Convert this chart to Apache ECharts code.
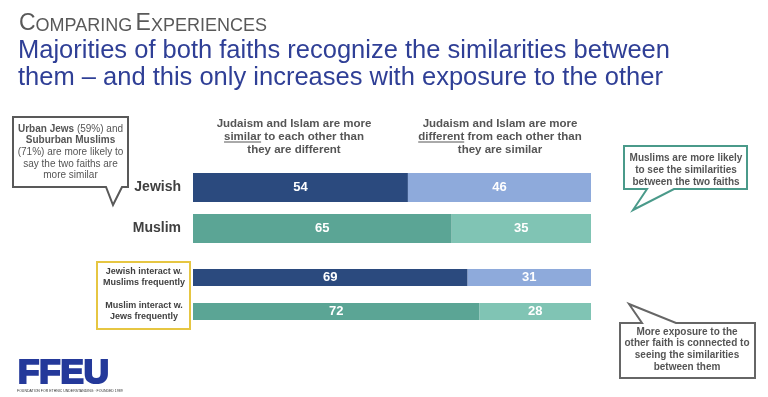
<!DOCTYPE html>
<html>
<head>
<meta charset="utf-8">
<script src="https://cdn.jsdelivr.net/npm/echarts@6/dist/echarts.min.js"></script>
<style>
  html, body { margin: 0; padding: 0; background: #fff; }
  #chart { width: 768px; height: 397px; }
</style>
</head>
<body>
<div id="chart"></div>
<script>
var groupTop = ['Jewish', 'Muslim'];
var groupBottom = ['Jewish interact w.\nMuslims frequently', 'Muslim interact w.\nJews frequently'];
var similarTop = [54, 65];
var differentTop = [46, 35];
var similarBottom = [69, 72];
var differentBottom = [31, 28];

var darkColors = ['#2b4a7e', '#5ba595'];
var lightColors = ['#8eaadb', '#80c4b4'];
var FONT = '"Liberation Sans", Arial, sans-serif';

function colored(values, colors) {
    return values.map(function (v, i) {
        return { value: v, itemStyle: { color: colors[i] } };
    });
}

// width of a text, used to put the underline under one word
var ctx = document.createElement('canvas').getContext('2d');
function textWidth(s, font) {
    ctx.font = font;
    return ctx.measureText(s).width;
}

var headFont = 'bold 11.5px ' + FONT;
function underline(cx, y, before, word, rest) {
    var full = textWidth(before + word + rest, headFont);
    var x0 = cx - full / 2 + textWidth(before, headFont);
    return {
        type: 'line',
        shape: { x1: x0, y1: y, x2: x0 + textWidth(word, headFont), y2: y },
        style: { stroke: '#555', lineWidth: 1 }
    };
}

var myChart = echarts.init(document.getElementById('chart'));

var labelStyle = {
    show: true,
    position: 'inside',
    color: '#fff',
    fontWeight: 'bold',
    fontSize: 13,
    fontFamily: FONT
};

option = {
    animation: false,
    grid: [
        { left: 193, right: 177, top: 167, height: 82 },
        { left: 193, right: 177, top: 260.5, height: 68 }
    ],
    xAxis: [
        { gridIndex: 0, type: 'value', min: 0, max: 100, show: false },
        { gridIndex: 1, type: 'value', min: 0, max: 100, show: false }
    ],
    yAxis: [{
        gridIndex: 0,
        type: 'category',
        inverse: true,
        data: groupTop,
        axisLine: { show: false },
        axisTick: { show: false },
        axisLabel: {
            margin: 12,
            color: '#404040',
            fontWeight: 'bold',
            fontSize: 14,
            fontFamily: FONT
        }
    }, {
        gridIndex: 1,
        type: 'category',
        inverse: true,
        data: groupBottom,
        axisLine: { show: false },
        axisTick: { show: false },
        axisLabel: {
            margin: 49,
            align: 'center',
            lineHeight: 11,
            padding: [2, 0, 0, 0],
            color: '#404040',
            fontWeight: 'bold',
            fontSize: 9,
            fontFamily: FONT
        }
    }],
    series: [{
        name: 'similar',
        type: 'bar',
        stack: 'top',
        xAxisIndex: 0,
        yAxisIndex: 0,
        barWidth: 29,
        label: labelStyle,
        data: colored(similarTop, darkColors)
    }, {
        name: 'different',
        type: 'bar',
        stack: 'top',
        xAxisIndex: 0,
        yAxisIndex: 0,
        barWidth: 29,
        label: labelStyle,
        data: colored(differentTop, lightColors)
    }, {
        name: 'similar',
        type: 'bar',
        stack: 'bottom',
        xAxisIndex: 1,
        yAxisIndex: 1,
        barWidth: 17,
        label: labelStyle,
        data: colored(similarBottom, darkColors)
    }, {
        name: 'different',
        type: 'bar',
        stack: 'bottom',
        xAxisIndex: 1,
        yAxisIndex: 1,
        barWidth: 17,
        label: labelStyle,
        data: colored(differentBottom, lightColors)
    }],
    graphic: [
        // titles
        {
            type: 'text', left: 19, top: 12,
            style: {
                text: '{b|C}{s|OMPARING} {b|E}{s|XPERIENCES}',
                rich: {
                    b: { fontSize: 23, fontFamily: FONT, fill: '#595959', verticalAlign: 'bottom' },
                    s: { fontSize: 18, fontFamily: FONT, fill: '#595959', verticalAlign: 'bottom' }
                }
            }
        },
        {
            type: 'text', left: 18, top: 37,
            style: {
                text: 'Majorities of both faiths recognize the similarities between\nthem \u2013 and this only increases with exposure to the other',
                font: '25.5px ' + FONT,
                lineHeight: 27.5,
                fill: '#2f3f96'
            }
        },
        // column headers
        {
            type: 'text', x: 294, y: 117,
            style: {
                text: 'Judaism and Islam are more\nsimilar to each other than\nthey are different',
                font: headFont, lineHeight: 13, fill: '#555', align: 'center'
            }
        },
        underline(294, 142, '', 'similar', ' to each other than'),
        {
            type: 'text', x: 500, y: 117,
            style: {
                text: 'Judaism and Islam are more\ndifferent from each other than\nthey are similar',
                font: headFont, lineHeight: 13, fill: '#555', align: 'center'
            }
        },
        underline(500, 142, '', 'different', ' from each other than'),
        // box round the exposure rows
        {
            type: 'rect',
            shape: { x: 97, y: 262, width: 93, height: 67 },
            style: { fill: 'none', stroke: '#e6c642', lineWidth: 2 }
        },
        // left callout
        {
            type: 'polygon',
            shape: { points: [[13, 117], [128, 117], [128, 187], [122, 187], [113, 205], [106, 187], [13, 187]] },
            style: { fill: '#fff', stroke: '#595959', lineWidth: 2 }
        },
        {
            type: 'text', x: 70.5, y: 123,
            style: {
                text: '{b|Urban Jews} (59%) and\n{b|Suburban Muslims}\n(71%) are more likely to\nsay the two faiths are\nmore similar',
                font: '10px ' + FONT, lineHeight: 11.7, fill: '#555', align: 'center',
                rich: { b: { fontWeight: 'bold', fontSize: 10, fontFamily: FONT, fill: '#555', lineHeight: 11.7 } }
            }
        },
        // right top callout
        {
            type: 'polygon',
            shape: { points: [[624, 146], [747, 146], [747, 189], [674, 189], [633, 210], [647, 189], [624, 189]] },
            style: { fill: '#fff', stroke: '#4a9a8a', lineWidth: 2 }
        },
        {
            type: 'text', x: 686, y: 152,
            style: {
                text: 'Muslims are more likely\nto see the similarities\nbetween the two faiths',
                font: 'bold 10px ' + FONT, lineHeight: 12, fill: '#555', align: 'center'
            }
        },
        // bottom right callout
        {
            type: 'polygon',
            shape: { points: [[620, 323], [642, 323], [629, 304], [676, 323], [755, 323], [755, 378], [620, 378]] },
            style: { fill: '#fff', stroke: '#666', lineWidth: 2 }
        },
        {
            type: 'text', x: 687, y: 326,
            style: {
                text: 'More exposure to the\nother faith is connected to\nseeing the similarities\nbetween them',
                font: 'bold 10px ' + FONT, lineHeight: 11.7, fill: '#555', align: 'center'
            }
        },
        // logo
        {
            type: 'text', x: 18, y: 357, scaleX: 1.04,
            style: {
                text: 'FFEU', font: 'bold 33.5px ' + FONT, fill: '#24399a',
                stroke: '#24399a', lineWidth: 2.2
            }
        },
        {
            type: 'text', left: 17, top: 389,
            style: { text: 'FOUNDATION FOR ETHNIC UNDERSTANDING \u00b7 FOUNDED 1989', font: '3.5px ' + FONT, fill: '#333' }
        }
    ]
};
myChart.setOption(option);
</script>
</body>
</html>
